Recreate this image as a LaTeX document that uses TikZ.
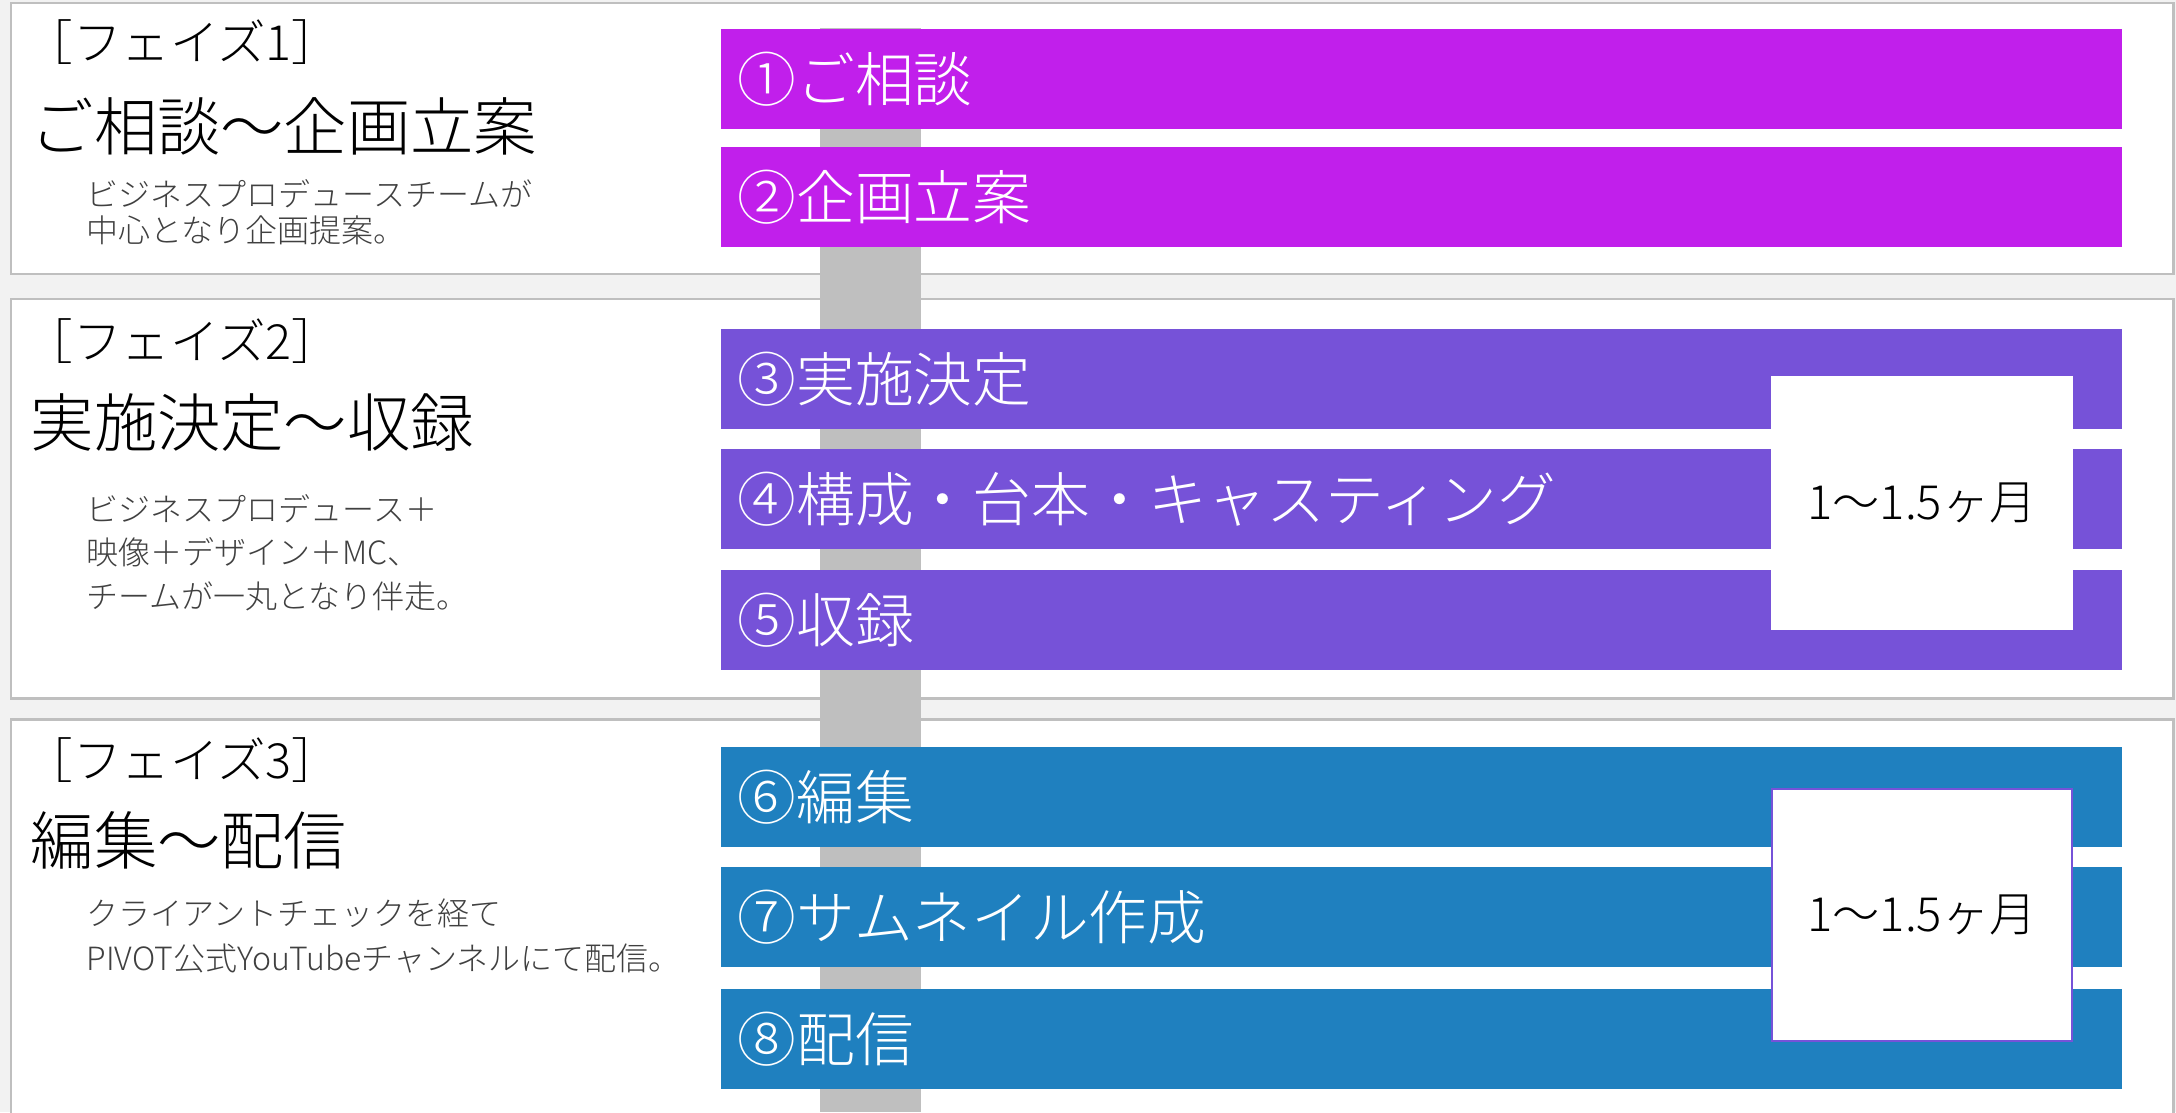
\documentclass[tikz,border=0pt]{standalone}
\usepackage{fontspec}
\IfFontExistsTF{Noto Sans CJK JP Light}
  {\setmainfont{Noto Sans CJK JP Light}}
  {\IfFontExistsTF{Noto Sans CJK JP DemiLight}
    {\setmainfont{Noto Sans CJK JP DemiLight}}
    {\setmainfont{Noto Sans CJK JP}}}
\usetikzlibrary{positioning}
\definecolor{phaseone}{HTML}{C11FEB}
\definecolor{phasetwo}{HTML}{7652D8}
\definecolor{phasethree}{HTML}{1F80BF}
\definecolor{rulegray}{HTML}{BFBFBF}
\definecolor{pagegray}{HTML}{F2F2F2}
\definecolor{desctext}{HTML}{404040}

\begin{document}
\begin{tikzpicture}[x=0.01cm,y=-0.01cm,
    panel/.style={draw=rulegray,line width=0.85pt,fill=white},
    tag/.style={anchor=west,inner sep=0pt,font=\fontsize{13.8pt}{16pt}\selectfont},
    title/.style={anchor=west,inner sep=0pt,font=\fontsize{18pt}{21pt}\selectfont},
    desc/.style={anchor=west,inner sep=0pt,text=desctext,font=\fontsize{9.1pt}{11pt}\selectfont},
    bar/.style={anchor=north west,inner xsep=0.17cm,inner ysep=0pt,text width=13.66cm,
      minimum height=1cm,align=left,text=white,font=\fontsize{16.7pt}{19pt}\selectfont},
    monthbox/.style={fill=white,minimum width=3cm,minimum height=2.52cm,inner sep=0pt,
      font=\fontsize{13.4pt}{16pt}\selectfont}]
  \useasboundingbox (0,0) rectangle (2176,1112);
  \fill[pagegray] (0,0) rectangle (2176,1112);

  % phase panels
  \draw[panel] (11,3) rectangle (2173,274);
  \draw[panel] (11,299) rectangle (2173,698);
  \draw[panel] (11,719) rectangle (2173,1140);

  % spine behind the steps
  \fill[rulegray] (820,28) rectangle (921,1112);

  % steps
  \node[bar,fill=phaseone] (s1) at (720,28) {①ご相談};
  \node[bar,fill=phaseone] (s2) at (720,146) {②企画立案};
  \node[bar,fill=phasetwo] (s3) at (720,328) {③実施決定};
  \node[bar,fill=phasetwo] (s4) at (720,448) {④構成・台本・キャスティング};
  \node[bar,fill=phasetwo] (s5) at (720,569) {⑤収録};
  \node[bar,fill=phasethree] (s6) at (720,746) {⑥編集};
  \node[bar,fill=phasethree] (s7) at (720,866) {⑦サムネイル作成};
  \node[bar,fill=phasethree] (s8) at (720,988) {⑧配信};

  % durations
  \node[monthbox,draw=white] (m2) at (1922,503) {1〜1.5ヶ月};
  \node[monthbox,draw=phasetwo,line width=0.6pt] (m3) at (1922,915) {1〜1.5ヶ月};

  % phase texts
  \node[tag] (t1) at (24,42) {［フェイズ1］};
  \node[title] (h1) at (30,126) {ご相談〜企画立案};
  \node[desc] (d1a) at (86,194) {ビジネスプロデュースチームが};
  \node[desc] (d1b) at (86,230) {中心となり企画提案。};

  \node[tag] (t2) at (24,341) {［フェイズ2］};
  \node[title] (h2) at (30,423) {実施決定〜収録};
  \node[desc] (d2a) at (86,509) {ビジネスプロデュース＋};
  \node[desc] (d2b) at (86,552) {映像＋デザイン＋MC、};
  \node[desc] (d2c) at (86,596) {チームが一丸となり伴走。};

  \node[tag] (t3) at (24,760) {［フェイズ3］};
  \node[title] (h3) at (30,840) {編集〜配信};
  \node[desc] (d3a) at (86,913) {クライアントチェックを経て};
  \node[desc] (d3b) at (86,958) {PIVOT公式YouTubeチャンネルにて配信。};
\end{tikzpicture}
\end{document}
